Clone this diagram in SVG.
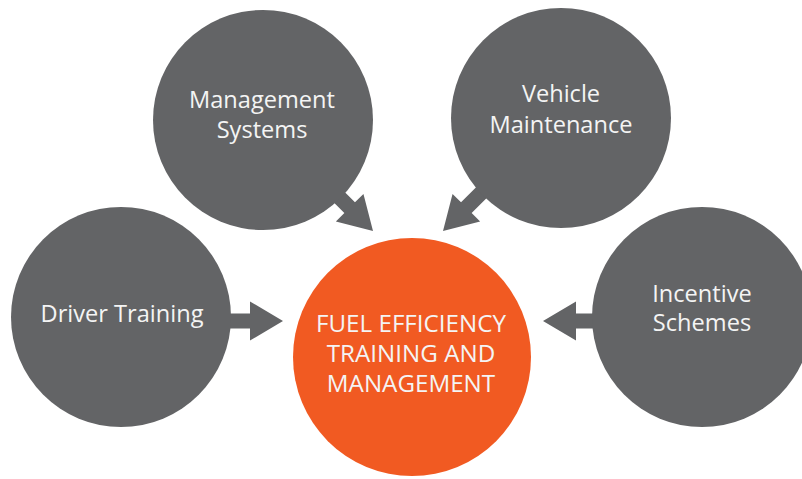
<svg xmlns="http://www.w3.org/2000/svg" width="802" height="479" viewBox="0 0 802 479">
<defs>
<style>
.sat{fill:#636466}
.core{fill:#f15a22}
.lbl{font-family:"Open Sans","Liberation Sans",sans-serif;font-size:23.6px;fill:#f4f4f4;text-anchor:middle}
.big{font-size:24.2px}
.arr{fill:#636466}
</style>
<path id="arrow" d="M0,0 L-33,-19.5 L-33,-7.5 L-60,-7.5 L-60,7.5 L-33,7.5 L-33,19.5 Z"/>
</defs>
<rect width="802" height="479" fill="#ffffff"/>
<g id="connectors" class="arr">
<use href="#arrow" transform="translate(283,321)"/>
<use href="#arrow" transform="translate(543,321) rotate(180)"/>
<use href="#arrow" transform="translate(373,231) rotate(45)"/>
<use href="#arrow" transform="translate(443,231) rotate(135)"/>
</g>
<g id="management-systems">
<circle class="sat" cx="263" cy="120" r="110"/>
<text class="lbl" x="262" y="108">Management</text>
<text class="lbl" x="262" y="138">Systems</text>
</g>
<g id="vehicle-maintenance">
<circle class="sat" cx="561" cy="118" r="110"/>
<text class="lbl" x="561" y="102">Vehicle</text>
<text class="lbl" x="561" y="133">Maintenance</text>
</g>
<g id="driver-training">
<circle class="sat" cx="121" cy="317" r="110"/>
<text class="lbl" x="122" y="322">Driver Training</text>
</g>
<g id="incentive-schemes">
<circle class="sat" cx="702" cy="317" r="110"/>
<text class="lbl" x="702" y="302">Incentive</text>
<text class="lbl" x="702" y="331">Schemes</text>
</g>
<g id="fuel-efficiency">
<circle class="core" cx="412" cy="357" r="119"/>
<text class="lbl big" x="411" y="332">FUEL EFFICIENCY</text>
<text class="lbl big" x="411" y="362">TRAINING AND</text>
<text class="lbl big" x="411" y="392">MANAGEMENT</text>
</g>
</svg>
